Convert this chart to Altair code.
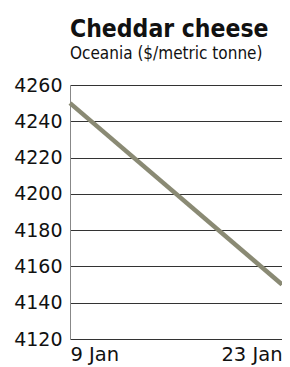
import altair as alt
import pandas as pd

dates = ["9 Jan", "23 Jan"]
prices = [4250, 4150]
y_ticks = [4120, 4140, 4160, 4180, 4200, 4220, 4240, 4260]

df = pd.DataFrame({"date": dates, "price": prices})

chart = alt.Chart(df).mark_line(color="#8a8a74", strokeWidth=4.5, strokeCap="butt").encode(
    x=alt.X("date:N", sort=dates, title=None,
            scale=alt.Scale(type="point", padding=0),
            axis=alt.Axis(labelAngle=0, ticks=False, domain=False, grid=False,
                          labelFont="DejaVu Sans", labelFontSize=19.5, labelColor="#111",
                          labelPadding=6,
                          labelAlign=alt.ConditionalAxisLabelAlign(
                              condition={"test": "datum.value == '9 Jan'", "value": "left"},
                              value="right"))),
    y=alt.Y("price:Q", title=None,
            scale=alt.Scale(domain=[4120, 4260], nice=False, zero=False),
            axis=alt.Axis(values=y_ticks, format="d", ticks=False, domain=True, domainColor="#888",
                          domainWidth=1, grid=True, gridColor="#333", gridWidth=1,
                          labelFont="DejaVu Sans", labelFontSize=19, labelColor="#111",
                          labelPadding=8)),
).properties(
    width=212, height=254,
    autosize="none",
    padding={"left": 62, "top": 77, "right": 0, "bottom": 28},
    title=alt.TitleParams(
        "Cheddar cheese",
        subtitle="Oceania ($/metric tonne)",
        anchor="start", frame="group",
        font="DejaVu Sans Condensed", fontWeight="bold", fontSize=24.5, color="#111",
        subtitleFont="DejaVu Sans Condensed", subtitleFontSize=17, subtitleColor="#111",
        subtitlePadding=4, offset=13,
    ),
).configure_view(stroke=None)

chart.save("out.html", embed_options={"renderer": "svg", "actions": False})
